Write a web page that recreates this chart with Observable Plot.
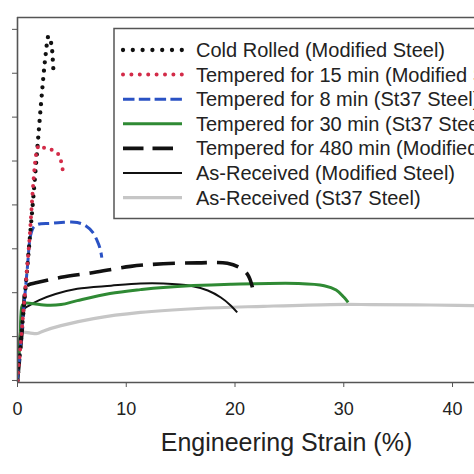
<!DOCTYPE html>
<html><head><meta charset="utf-8">
<script src="https://cdn.jsdelivr.net/npm/d3@7"></script>
<script src="https://cdn.jsdelivr.net/npm/@observablehq/plot@0.6"></script>
<style>
body{margin:0;background:#fff;}
svg{font-family:"Liberation Sans",Arial,sans-serif;}
</style>
</head><body><div id="chart"></div>
<script>
// ---- data ----
const seriesNames = [
  "Cold Rolled (Modified Steel)",
  "Tempered for 15 min (Modified Steel)",
  "Tempered for 8 min (St37 Steel)",
  "Tempered for 30 min (St37 Steel)",
  "Tempered for 480 min (Modified Steel)",
  "As-Received (Modified Steel)",
  "As-Received (St37 Steel)"
];
const coldRolledStrain = [0, 1.3, 2.6, 2.85, 3.1, 3.2, 3.25, 3.3];
const coldRolledStress = [0, 372, 745, 784, 768, 748, 728, 708];
const temp15Strain = [0, 1.0, 1.82, 2.0, 2.3, 3.0, 3.7, 4.0, 4.15];
const temp15Stress = [0, 290, 528, 535, 531, 527, 517, 500, 481];
const temp8Strain = [0, 0.9, 1.2, 1.5, 1.9, 3.0, 4.0, 5.5, 6.3, 6.9, 7.3, 7.6, 7.75];
const temp8Stress = [0, 255, 330, 350, 356, 358, 360, 360, 352, 338, 320, 300, 280];
const temp30Strain = [0, 0.25, 0.45, 0.7, 1.5, 2.4, 4.0, 5.5, 8.5, 11.3, 13.4, 19.6, 25.8, 28.2, 29.3, 30.0, 30.4];
const temp30Stress = [0, 100, 172, 176, 175, 172, 173, 182, 198, 207, 212, 219, 221, 216, 206, 190, 178];
const temp480Strain = [0, 0.43, 0.6, 0.75, 1.0, 1.8, 4.0, 7.0, 10.4, 13.4, 16.6, 19.3, 20.5, 21.2, 21.6];
const temp480Stress = [0, 114, 180, 214, 218, 223, 235, 246, 260, 266, 268, 267, 256, 240, 212];
const asRecModStrain = [0, 0.18, 0.37, 0.55, 1.1, 2.0, 3.5, 5.5, 8.6, 11.3, 13.4, 15.9, 17.5, 18.7, 19.6, 20.2];
const asRecModStress = [0, 91, 148, 162, 171, 183, 197, 209, 216, 221, 221, 216, 205, 189, 171, 155];
const asRecSt37Strain = [0, 0.1, 0.3, 0.5, 1.2, 1.84, 2.4, 4.0, 7.0, 11.3, 16.6, 22.6, 28.8, 32.5, 38, 44];
const asRecSt37Stress = [0, 60, 105, 110, 108, 107, 113, 125, 141, 155, 164, 169, 173, 173, 172, 170];
const xTicks = [0, 10, 20, 30, 40];
const yTicks = [0, 100, 200, 300, 400, 500, 600, 700, 800];
const xLabel = "Engineering Strain (%)";

// ---- styles (separate from data) ----
const styles = [
  {stroke: "#111111", width: 4.3, dash: "0 8.4", cap: "round", legendDash: "0 9.8", legendEnd: 183},
  {stroke: "#d32b48", width: 4.0, dash: "0 7.8", cap: "round", legendDash: "0 8.4", legendEnd: 183},
  {stroke: "#2a52c4", width: 3.0, dash: "11 5", cap: "butt", legendDash: "11.5 4.3", legendEnd: 182},
  {stroke: "#2f8a34", width: 3.0, dash: null, cap: "butt", legendDash: null, legendEnd: 182},
  {stroke: "#111111", width: 3.6, dash: "22 10", cap: "butt", legendDash: "20.5 9", legendEnd: 173},
  {stroke: "#111111", width: 2.0, dash: null, cap: "butt", legendDash: null, legendEnd: 182},
  {stroke: "#c6c6c6", width: 3.2, dash: null, cap: "butt", legendDash: null, legendEnd: 182}
];
const strainArrays = [coldRolledStrain, temp15Strain, temp8Strain, temp30Strain, temp480Strain, asRecModStrain, asRecSt37Strain];
const stressArrays = [coldRolledStress, temp15Stress, temp8Stress, temp30Stress, temp480Stress, asRecModStress, asRecSt37Stress];

const rowsFor = i => strainArrays[i].map((s, k) => ({strain: s, stress: stressArrays[i][k]}));

// draw order: background curves first, dotted ones on top
const drawOrder = [6, 5, 3, 4, 2, 0, 1];

const W = 474, H = 474;
const lineMarks = drawOrder.map(i => Plot.line(rowsFor(i), {
  x: "strain", y: "stress", curve: "catmull-rom", clip: true,
  stroke: styles[i].stroke, strokeWidth: styles[i].width,
  strokeDasharray: styles[i].dash, strokeLinecap: styles[i].cap, strokeLinejoin: "round"
}));

const yDom = [-4.6, 827];
const chart = Plot.plot({
  width: W, height: H,
  marginLeft: 17, marginRight: 0, marginTop: 17, marginBottom: 92,
  style: {background: "#fff", color: "#222", fontFamily: "Liberation Sans, Arial, sans-serif"},
  x: {domain: [0, 42.02]},
  y: {domain: yDom},
  marks: [
    ...lineMarks,
    Plot.axisX({ticks: xTicks, tickSize: 5, tickPadding: 15, fontSize: 18, stroke: "#555", label: null, tickFormat: d => String(d)}),
    Plot.axisY({ticks: yTicks, tickSize: 5, tickFormat: () => "", stroke: "#555", label: null}),
    Plot.ruleX([0], {stroke: "#555", strokeWidth: 1.6}),
    Plot.ruleY([yDom[0]], {stroke: "#555", strokeWidth: 1.6}),
    Plot.ruleY([yDom[1]], {stroke: "#555", strokeWidth: 1.6}),
    Plot.text([xLabel], {x: 24.73, frameAnchor: "bottom", dy: 60, text: d => d, fontSize: 25, fill: "#222", lineAnchor: "middle"})
  ]
});
document.getElementById("chart").appendChild(chart);

// ---- legend box ----
const svg = d3.select(chart);
const lg = svg.append("g").attr("text-anchor", "start");
lg.append("rect").attr("x", 114).attr("y", 28.5).attr("width", 420).attr("height", 190)
  .attr("fill", "#fff").attr("stroke", "#555").attr("stroke-width", 1.5);
seriesNames.forEach((name, i) => {
  const y = 50 + i * 24.6;
  const st = styles[i];
  const ln = lg.append("line").attr("x1", 123).attr("x2", st.legendEnd).attr("y1", y).attr("y2", y)
    .attr("stroke", st.stroke).attr("stroke-width", st.width).attr("stroke-linecap", st.cap);
  if (st.legendDash) ln.attr("stroke-dasharray", st.legendDash);
  lg.append("text").attr("x", 196).attr("y", y).attr("dy", "0.35em").attr("text-anchor", "start")
    .attr("font-size", 20).attr("fill", "#222").text(name);
});
</script>
</body></html>
